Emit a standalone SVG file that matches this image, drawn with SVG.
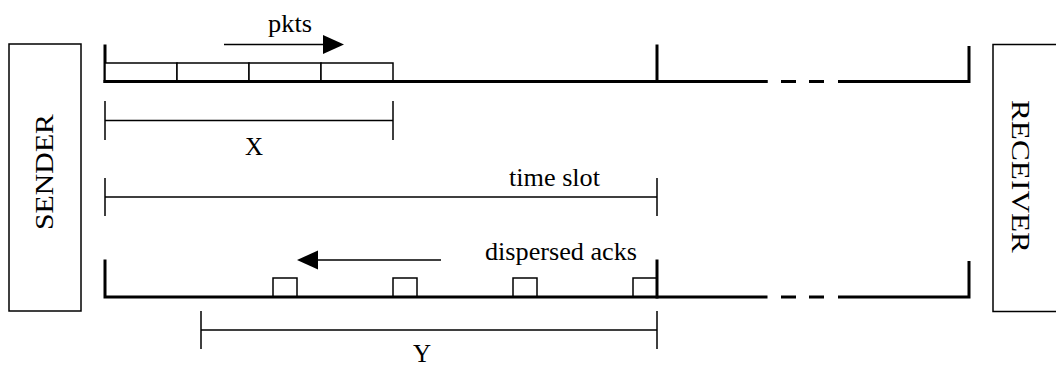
<svg xmlns="http://www.w3.org/2000/svg" width="1056" height="365" viewBox="0 0 1056 365">
<defs>
<style>
.box{fill:#fff;stroke:#000;stroke-width:1.5}
.thick{fill:none;stroke:#000;stroke-width:3;stroke-linecap:square;stroke-linejoin:miter}
.thin{fill:none;stroke:#000;stroke-width:1.5}
.cell{fill:#fff;stroke:#000;stroke-width:1.5}
.lbl{font-family:'Liberation Serif',serif;font-size:25px;fill:#000}
.head{fill:#000;stroke:none}
</style>
</defs>
<rect width="1056" height="365" fill="#fff"/>
<g id="sender">
<rect class="box" x="9" y="44" width="72" height="267"/>
<text class="lbl" font-family="Liberation Serif, serif" transform="translate(53,172) rotate(-90)" text-anchor="middle" textLength="116" lengthAdjust="spacingAndGlyphs">SENDER</text>
</g>
<g id="receiver">
<rect class="box" x="993" y="44.5" width="80" height="267"/>
<text class="lbl" font-family="Liberation Serif, serif" transform="translate(1012,176.5) rotate(90)" text-anchor="middle" textLength="153" lengthAdjust="spacingAndGlyphs">RECEIVER</text>
</g>
<g id="forward-channel">
<path class="thick" d="M105,46 V81.5 H766"/>
<path class="thick" d="M657,46 V81.5"/>
<path class="thick" d="M781,81.5 H796 M809,81.5 H824 M838,81.5 H969 V46" style="stroke-linecap:butt"/>
<rect class="cell" x="105" y="63" width="72" height="18"/>
<rect class="cell" x="177" y="63" width="72" height="18"/>
<rect class="cell" x="249" y="63" width="72" height="18"/>
<rect class="cell" x="321" y="63" width="72" height="18"/>
<path class="thick" d="M105,81.5 H766"/>
</g>
<g id="reverse-channel">
<rect class="cell" x="273" y="278" width="24" height="19"/>
<rect class="cell" x="393" y="278" width="24" height="19"/>
<rect class="cell" x="513" y="278" width="24" height="19"/>
<rect class="cell" x="633" y="278" width="24" height="19"/>
<path class="thick" d="M105,261 V297 H766"/>
<path class="thick" d="M657,261 V297"/>
<path class="thick" d="M781,297 H796 M809,297 H824 M838,297 H969 V261" style="stroke-linecap:butt"/>
</g>
<g id="dimensions">
<path class="thin" d="M105,101 V140 M393,101 V140 M105,120.5 H393"/>
<path class="thin" d="M105,178 V216 M657,178 V216 M105,197 H657"/>
<path class="thin" d="M201,311 V349 M657,311 V349 M201,330 H657"/>
</g>
<g id="connectors">
<path class="thin" d="M224,44.5 H324"/>
<polygon class="head" points="344,44.5 323,35 323,54"/>
<path class="thin" d="M317,260 H441"/>
<polygon class="head" points="297,260 318,250.5 318,269.5"/>
</g>
<g id="labels" font-family="Liberation Serif, serif">
<text class="lbl" x="268" y="31.5" textLength="44" lengthAdjust="spacingAndGlyphs">pkts</text>
<text class="lbl" x="254" y="155" text-anchor="middle">X</text>
<text class="lbl" x="509" y="186" textLength="91" lengthAdjust="spacingAndGlyphs">time slot</text>
<text class="lbl" x="485" y="260" textLength="152" lengthAdjust="spacingAndGlyphs">dispersed acks</text>
<text class="lbl" x="422" y="362" text-anchor="middle">Y</text>
</g>
</svg>
